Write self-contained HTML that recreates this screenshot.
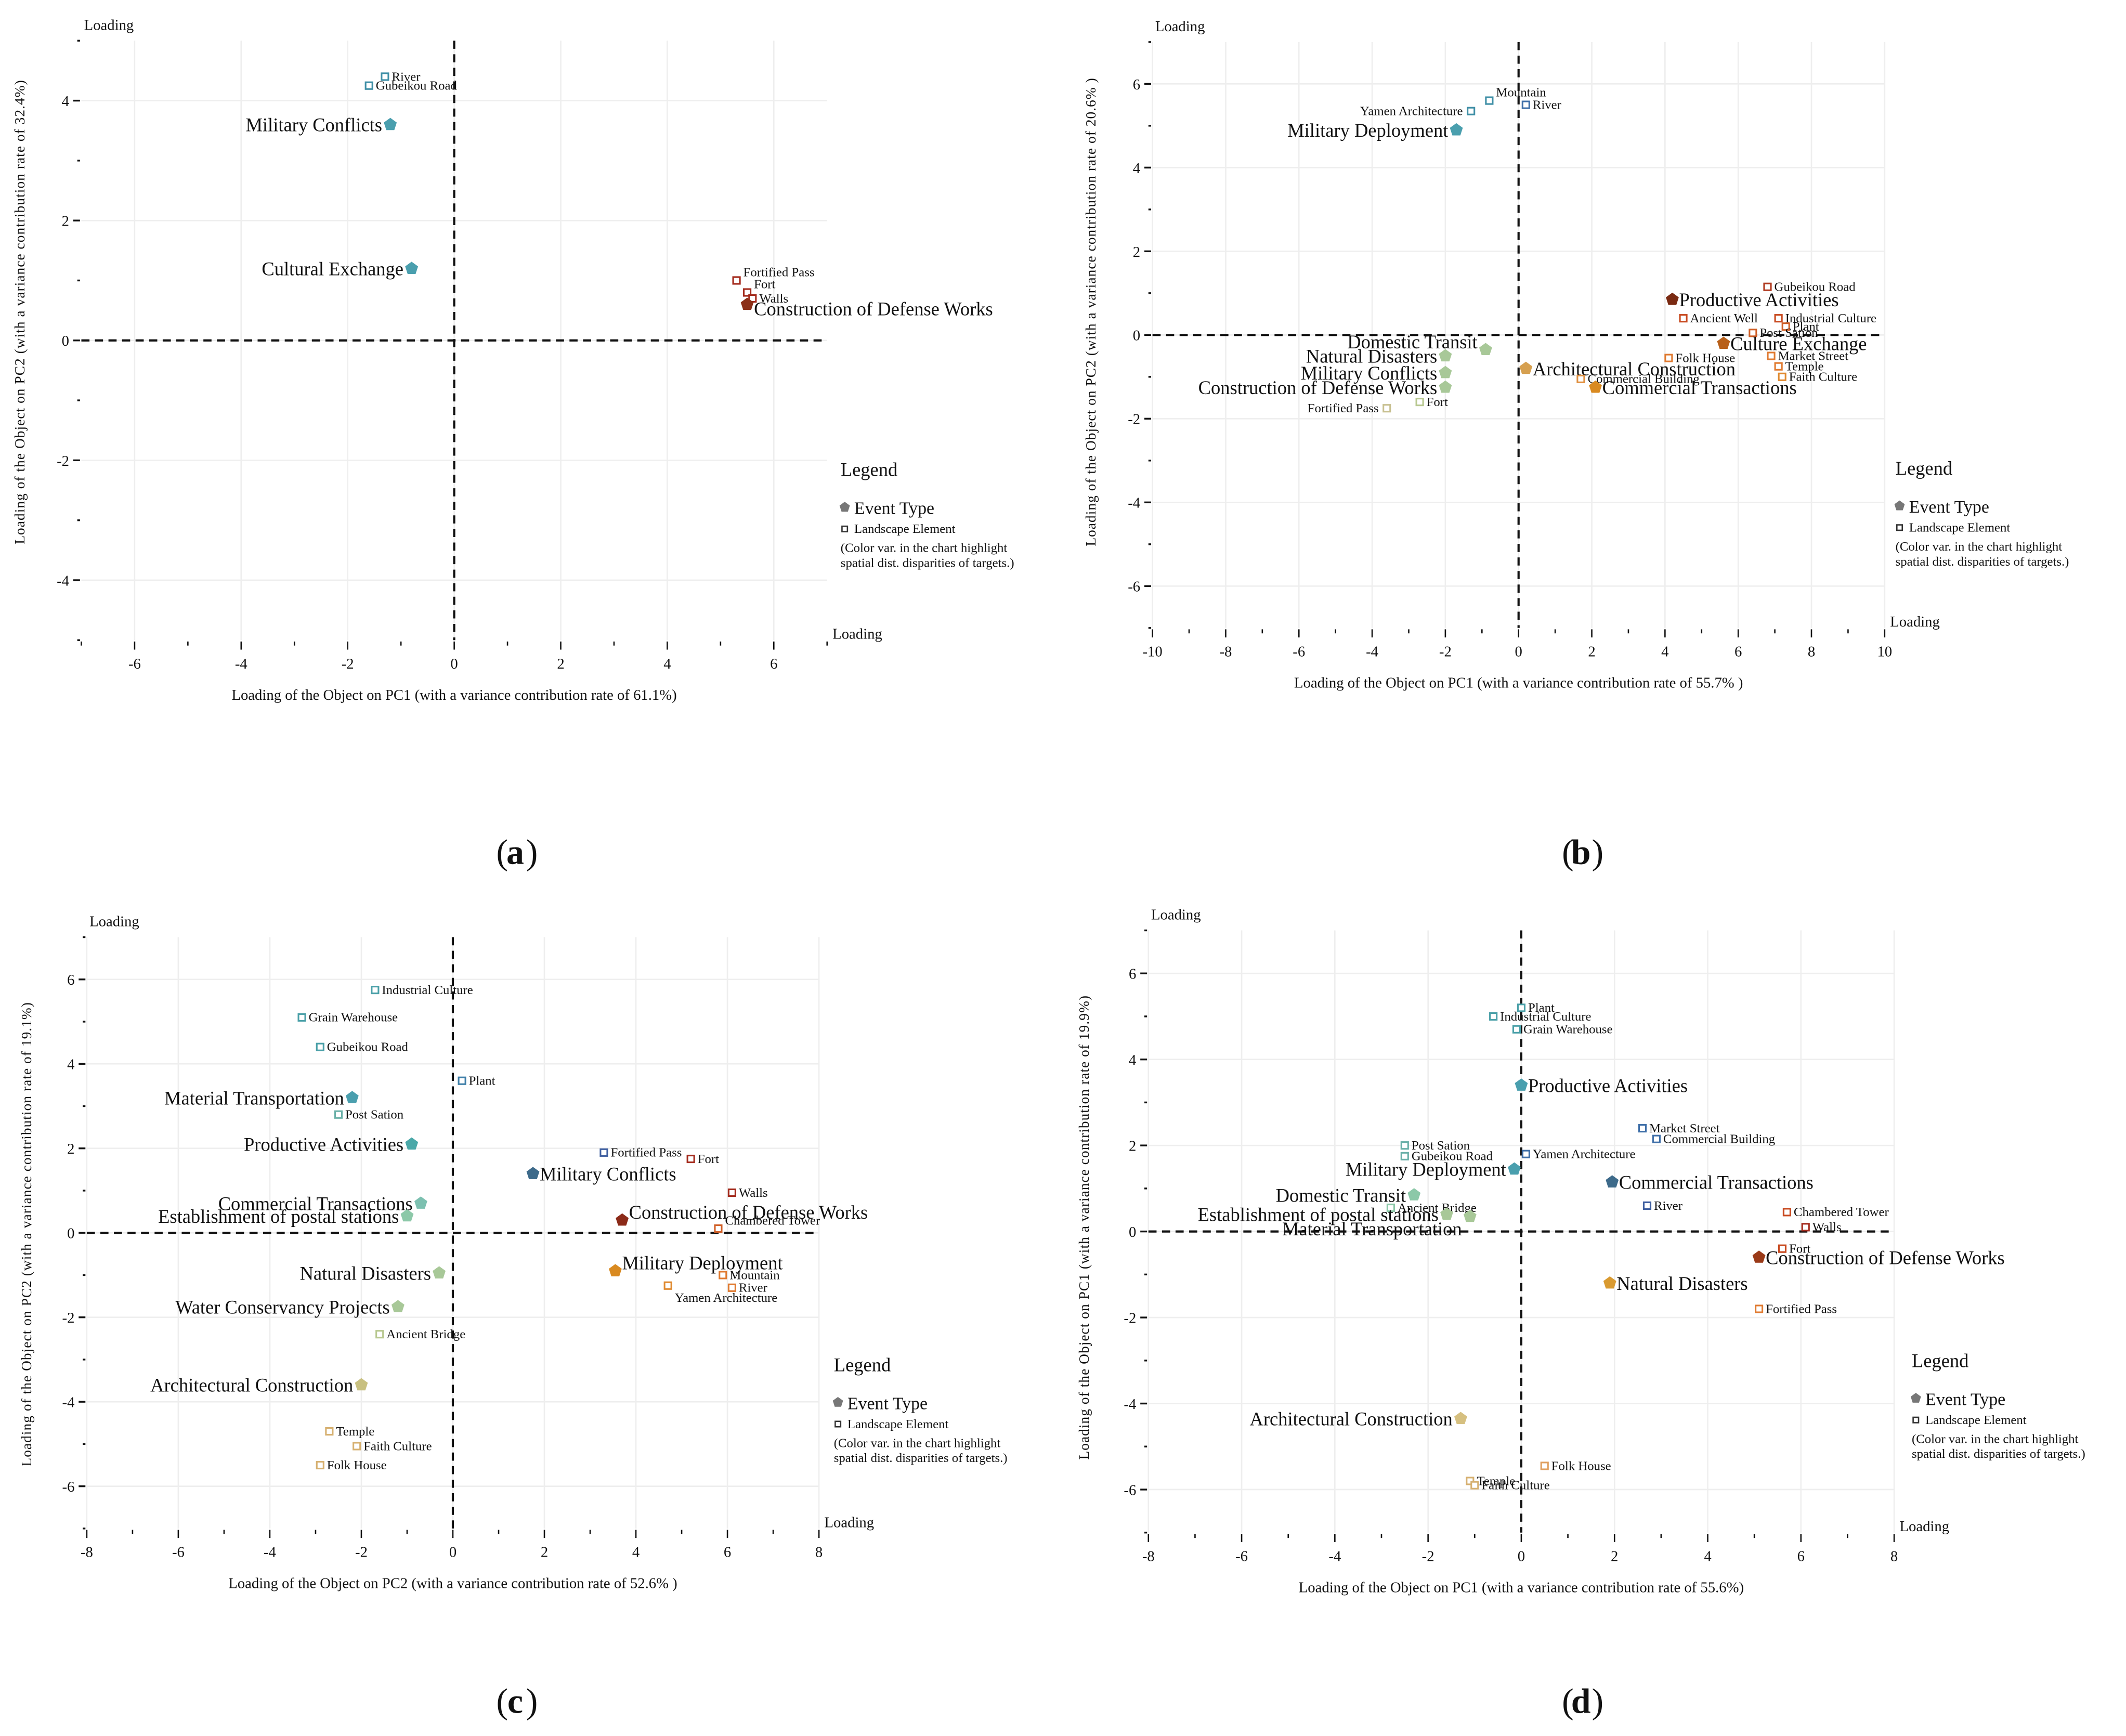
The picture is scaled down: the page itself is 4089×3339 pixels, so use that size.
<!DOCTYPE html>
<html><head><meta charset="utf-8"><style>
html,body{margin:0;padding:0;background:#fff;}
svg{display:block;font-family:"Liberation Serif",serif;}
</style></head><body>
<svg id="fig" width="4089" height="3339" viewBox="0 0 1568 1280" preserveAspectRatio="none" xmlns="http://www.w3.org/2000/svg"></svg>
<script>
// ---- Panel (a) data ----
const namesA=["River","Gubeikou Road","Military Conflicts","Cultural Exchange","Fortified Pass","Fort","Walls","Construction of Defense Works"];
const xA=[-1.3,-1.6,-1.2,-0.8,5.3,5.5,5.6,5.5];
const yA=[4.4,4.25,3.6,1.2,1.0,0.8,0.7,0.6];
const typeA=["L","L","E","E","L","L","L","E"];
const colA=["#3f8fa6","#3f8fa6","#4a9fae","#4a9fae","#a32a1c","#a32a1c","#a32a1c","#8b3018"];
const sideA=["r","r","l","l","ru","ru","r","rd"];
// ---- Panel (b) data ----
const namesB=["Mountain","River","Yamen Architecture","Military Deployment","Gubeikou Road","Productive Activities","Ancient Well","Industrial Culture","Plant","Post Sation","Culture Exchange","Market Street","Folk House","Temple","Faith Culture","Architectural Construction","Commercial Building","Commercial Transactions","Domestic Transit","Natural Disasters","Military Conflicts","Construction of Defense Works","Fort","Fortified Pass"];
const xB=[-0.8,0.2,-1.3,-1.7,6.8,4.2,4.5,7.1,7.3,6.4,5.6,6.9,4.1,7.1,7.2,0.2,1.7,2.1,-0.9,-2.0,-2.0,-2.0,-2.7,-3.6];
const yB=[5.6,5.5,5.35,4.9,1.15,0.85,0.4,0.4,0.2,0.05,-0.2,-0.5,-0.55,-0.75,-1.0,-0.8,-1.05,-1.25,-0.35,-0.5,-0.9,-1.25,-1.6,-1.75];
const typeB=["L","L","L","E","L","E","L","L","L","L","E","L","L","L","L","E","L","E","E","E","E","E","L","L"];
const colB=["#3f8fa6","#3f6fa8","#3f8fa6","#4a9fae","#b03a20","#7a2a12","#c84a20","#c84a20","#d06028","#d06028","#b8601a","#e07a30","#e07a30","#e07a30","#e08a30","#d6a050","#e09040","#d98a20","#a8c898","#a8c898","#a8c898","#a8c898","#b8c890","#c8c090"];
const sideB=["ru","r","l","l","r","r","r","r","r","r","r","r","r","r","r","r","r","r","lu","l","l","l","r","l"];
// ---- Panel (c) data ----
const namesC=["Industrial Culture","Grain Warehouse","Gubeikou Road","Plant","Material Transportation","Post Sation","Productive Activities","Fortified Pass","Fort","Military Conflicts","Walls","Commercial Transactions","Establishment of postal stations","Construction of Defense Works","Chambered Tower","Military Deployment","Mountain","River","Yamen Architecture","Natural Disasters","Water Conservancy Projects","Ancient Bridge","Architectural Construction","Temple","Faith Culture","Folk House"];
const xC=[-1.7,-3.3,-2.9,0.2,-2.2,-2.5,-0.9,3.3,5.2,1.75,6.1,-0.7,-1.0,3.7,5.8,3.55,5.9,6.1,4.7,-0.3,-1.2,-1.6,-2.0,-2.7,-2.1,-2.9];
const yC=[5.75,5.1,4.4,3.6,3.2,2.8,2.1,1.9,1.75,1.4,0.95,0.7,0.4,0.3,0.1,-0.9,-1.0,-1.3,-1.25,-0.95,-1.75,-2.4,-3.6,-4.7,-5.05,-5.5];
const typeC=["L","L","L","L","E","L","E","L","L","E","L","E","E","E","L","E","L","L","L","E","E","L","E","L","L","L"];
const colC=["#4aa0a8","#4aa0a8","#4aa0a8","#3f7fa8","#4a9fae","#6ab0a8","#4aa8a8","#3f5fa0","#a32a1c","#3d6a8a","#a32a1c","#7cc0b0","#8cc8a8","#8b2a18","#d06028","#d98a20","#e07a30","#e07a30","#e08a30","#a8c898","#a8c898","#b8c890","#c8c080","#d6b070","#d6b070","#d6b070"];
const sideC=["r","r","r","r","l","r","l","r","r","r","r","l","l","ru","ru","ru","r","r","rb","l","l","r","l","r","r","r"];
// ---- Panel (d) data ----
const namesD=["Plant","Industrial Culture","Grain Warehouse","Productive Activities","Market Street","Commercial Building","Post Sation","Yamen Architecture","Gubeikou Road","Military Deployment","Commercial Transactions","Domestic Transit","Ancient Bridge","River","Establishment of postal stations","Material Transportation","Chambered Tower","Walls","Fort","Construction of Defense Works","Natural Disasters","Fortified Pass","Architectural Construction","Folk House","Temple","Faith Culture"];
const xD=[0.0,-0.6,-0.1,0.0,2.6,2.9,-2.5,0.1,-2.5,-0.15,1.95,-2.3,-2.8,2.7,-1.6,-1.1,5.7,6.1,5.6,5.1,1.9,5.1,-1.3,0.5,-1.1,-1.0];
const yD=[5.2,5.0,4.7,3.4,2.4,2.15,2.0,1.8,1.75,1.45,1.15,0.85,0.55,0.6,0.4,0.35,0.45,0.1,-0.4,-0.6,-1.2,-1.8,-4.35,-5.45,-5.8,-5.9];
const typeD=["L","L","L","E","L","L","L","L","L","E","E","E","L","L","E","E","L","L","L","E","E","L","E","L","L","L"];
const colD=["#4aa0a8","#4aa0a8","#4aa0a8","#4a9fae","#3f6fa8","#3f6fa8","#6ab0a8","#3f6fa8","#6ab0a8","#4a9fae","#3d6a8a","#8cc8a8","#8cc8a8","#3f5fa0","#a8c898","#a8c898","#c84a20","#a32a1c","#c84a20","#9a3a18","#d99a30","#e07a30","#d6c080","#e0a060","#d6b070","#d6b070"];
const sideD=["r","r","r","r","r","r","r","r","r","l","r","l","r","r","l","lb","r","r","r","r","r","r","l","r","r","r"];

const NS="http://www.w3.org/2000/svg";
const svg=document.getElementById('fig');
function el(tag,attrs,parent){const e=document.createElementNS(NS,tag);for(const k in attrs)e.setAttribute(k,attrs[k]);(parent||svg).appendChild(e);return e;}
function txt(s,x,y,size,attrs,parent){const t=el('text',Object.assign({x:x,y:y,'font-size':size,fill:'#111'},attrs||{}),parent);t.textContent=s;return t;}
function pent(cx,cy,r){let p=[];for(let i=0;i<5;i++){const a=-Math.PI/2+i*2*Math.PI/5;p.push((cx+r*Math.cos(a)).toFixed(2)+','+(cy+r*Math.sin(a)).toFixed(2));}return p.join(' ');}

function panel(cfg){
  const g=el('g',{});
  
  
  const sx=v=>cfg.x0+(v-cfg.xmin)/(cfg.xmax-cfg.xmin)*(cfg.x1-cfg.x0);
  const sy=v=>cfg.y1-(v-cfg.ymin)/(cfg.ymax-cfg.ymin)*(cfg.y1-cfg.y0);
  for(let v=cfg.xmin;v<=cfg.xmax;v++){ if(v%2!==0) continue; const l=el('line',{x1:sx(v),x2:sx(v),y1:cfg.y0,y2:cfg.y1,stroke:'#eeeeee','stroke-width':1},g);  }
  for(let v=cfg.ymin;v<=cfg.ymax;v++){ if(v%2!==0) continue; const l=el('line',{x1:cfg.x0,x2:cfg.x1,y1:sy(v),y2:sy(v),stroke:'#eeeeee','stroke-width':1},g);  }
  for(let v=cfg.xmin;v<=cfg.xmax;v++){
    const major=v%2===0;
    const t=el('line',{x1:sx(v),x2:sx(v),y1:cfg.y1+1,y2:cfg.y1+(major?7:4),stroke:'#111','stroke-width':1},g);
     
    if(major && v!==cfg.xmin || (major && cfg.labelMinX)){const lt=txt(String(v),sx(v),cfg.y1+21,11,{'text-anchor':'middle'},g);  }
  }
  for(let v=cfg.ymin;v<=cfg.ymax;v++){
    const major=v%2===0;
    const t=el('line',{x1:cfg.x0-(major?6:3),x2:cfg.x0-1,y1:sy(v),y2:sy(v),stroke:'#111','stroke-width':1.3},g);
     
    if(major){const lt=txt(String(v),cfg.x0-9,sy(v)+4,11,{'text-anchor':'end'},g);  }
  }
  let d=el('line',{x1:sx(0),x2:sx(0),y1:cfg.y0,y2:cfg.y1,stroke:'#111','stroke-width':1.6,'stroke-dasharray':'6,4'},g);
   
  d=el('line',{x1:cfg.x0,x2:cfg.x1,y1:sy(0),y2:sy(0),stroke:'#111','stroke-width':1.6,'stroke-dasharray':'6,4'},g);
   
  let t=txt('Loading',cfg.x0+2,cfg.y0-8,11,{},g);  
  t=txt('Loading',cfg.x1+4,cfg.y1-1,11,{},g);  
  t=txt(cfg.xtitle,(cfg.x0+cfg.x1)/2,cfg.y1+44,11,{'text-anchor':'middle'},g);  
  t=txt(cfg.ytitle,0,0,10.5,{'text-anchor':'middle','letter-spacing':'0.4',transform:'translate('+cfg.ytx+','+cfg.yty+') rotate(-90)'},g);  
  for(let i=0;i<cfg.names.length;i++){
    const px=sx(cfg.xs[i]), py=sy(cfg.ys[i]), c=cfg.cols[i];
    let m;
    if(cfg.types[i]==='E'){ m=el('polygon',{points:pent(px,py,5),fill:c},g);  }
    else { m=el('rect',{x:px-2.5,y:py-2.5,width:5,height:5,fill:'#fff',stroke:c,'stroke-width':1.2},g);  }
    
    const big=cfg.types[i]==='E', fs=big?14:9.5, s=cfg.sides[i];
    let lx,ly,anchor;
    if(s[0]==='l'){lx=px-6;anchor='end';} else {lx=px+5;anchor='start';}
    ly=py+(big?5:3)+(s[1]==='b'?9:0)+(s[1]==='u'?-6:0)+(s[1]==='d'?3:0);
    const lt=txt(cfg.names[i],lx,ly,fs,{'text-anchor':anchor},g);
     
  }
  const L=cfg.leg;
  t=txt('Legend',L.x,L.y,14,{},g);  
  let m=el('polygon',{points:pent(L.x+3,L.y+23,4),fill:'#777'},g);  
  t=txt('Event Type',L.x+10,L.y+28,13,{},g);  
  m=el('rect',{x:L.x+1,y:L.y+37,width:4,height:4,fill:'#fff',stroke:'#333','stroke-width':1},g);  
  t=txt('Landscape Element',L.x+10,L.y+42,9.5,{},g);  
  t=txt('(Color var. in the chart highlight',L.x,L.y+56,9.5,{},g);  
  t=txt('spatial dist. disparities of targets.)',L.x,L.y+67,9.5,{},g);  
  t=txt('(',cfg.cap[0]-14,cfg.cap[1],26,{},g);
   
  const cap=txt(cfg.id,cfg.cap[0],cfg.cap[1],26,{'font-weight':'bold','text-anchor':'middle'},g);
   
  t=txt(')',cfg.cap[0]+8,cfg.cap[1],26,{},g);  
}

panel({id:'a',x0:60,x1:610,y0:30,y1:472,xmin:-7,xmax:7,ymin:-5,ymax:5,
  names:namesA,xs:xA,ys:yA,types:typeA,cols:colA,sides:sideA,
  xtitle:'Loading of the Object on PC1 (with a variance contribution rate of 61.1%)',
  ytitle:'Loading of the Object on PC2 (with a variance contribution rate of 32.4%)',ytx:18,yty:230,
  leg:{x:620,y:351},cap:[380,637]});
panel({id:'b',x0:850,x1:1390,y0:31,y1:463,xmin:-10,xmax:10,ymin:-7,ymax:7,labelMinX:true,
  names:namesB,xs:xB,ys:yB,types:typeB,cols:colB,sides:sideB,
  xtitle:'Loading of the Object on PC1 (with a variance contribution rate of 55.7% )',
  ytitle:'Loading of the Object on PC2 (with a variance contribution rate of 20.6% )',ytx:808,yty:230,
  leg:{x:1398,y:350},cap:[1166,637]});
panel({id:'c',x0:64,x1:604,y0:691,y1:1127,xmin:-8,xmax:8,ymin:-7,ymax:7,labelMinX:true,
  names:namesC,xs:xC,ys:yC,types:typeC,cols:colC,sides:sideC,
  xtitle:'Loading of the Object on PC2 (with a variance contribution rate of 52.6% )',
  ytitle:'Loading of the Object on PC2 (with a variance contribution rate of 19.1%)',ytx:23,yty:910,
  leg:{x:615,y:1011},cap:[380,1263]});
panel({id:'d',x0:847,x1:1397,y0:686,y1:1130,xmin:-8,xmax:8,ymin:-7,ymax:7,labelMinX:true,
  names:namesD,xs:xD,ys:yD,types:typeD,cols:colD,sides:sideD,
  xtitle:'Loading of the Object on PC1 (with a variance contribution rate of 55.6%)',
  ytitle:'Loading of the Object on PC1 (with a variance contribution rate of 19.9%)',ytx:803,yty:905,
  leg:{x:1410,y:1008},cap:[1166,1263]});
</script>
</body></html>
